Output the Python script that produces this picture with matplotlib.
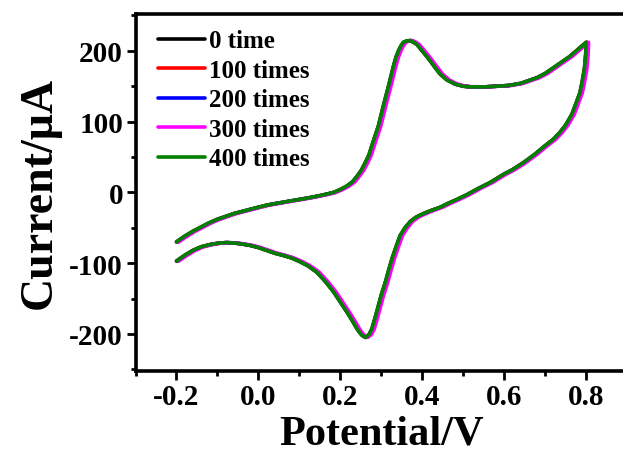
import numpy as np
import matplotlib
matplotlib.use('Agg')
import matplotlib.pyplot as plt
from matplotlib.ticker import MultipleLocator

plt.rcParams['font.family'] = ['Liberation Serif', 'DejaVu Serif']
plt.rcParams['font.weight'] = 'bold'

# forward scan (upper branch), potential in V, current in uA
fwd_v = [-0.20, -0.18, -0.16, -0.14, -0.12, -0.10, -0.08, -0.06, -0.04, -0.02,
         0.00, 0.021, 0.04, 0.06, 0.08, 0.10, 0.125, 0.151, 0.17, 0.184,
         0.20, 0.216, 0.23, 0.241, 0.251, 0.261, 0.27, 0.277, 0.285, 0.293,
         0.305, 0.318, 0.330, 0.336, 0.342, 0.348, 0.354, 0.362, 0.371, 0.379,
         0.387, 0.397, 0.407, 0.418, 0.428, 0.436, 0.444, 0.46, 0.48, 0.50,
         0.52, 0.55, 0.58, 0.61, 0.64, 0.66, 0.68, 0.70, 0.72, 0.74,
         0.76, 0.78, 0.80]
fwd_i = [-70, -62, -55, -49, -43, -38, -34, -30, -27, -24,
         -21, -18, -16, -14, -12, -10, -7.5, -4.5, -2, 0,
         4, 9, 15, 23, 31, 42, 53, 66, 80, 94,
         122, 151, 179, 191, 200, 207, 212, 214, 214.5, 212,
         209, 202, 195, 187, 179, 173, 167, 159, 153, 150,
         149, 149, 150, 151, 154, 158, 162, 168, 176, 184,
         192, 202, 212]

# reverse scan (lower branch)
rev_v = [0.80, 0.799, 0.796, 0.79, 0.785, 0.775, 0.765, 0.75, 0.735, 0.72,
         0.70, 0.675, 0.647, 0.62, 0.60, 0.566, 0.535, 0.51, 0.485, 0.465,
         0.444, 0.42, 0.403, 0.385, 0.371, 0.358, 0.346, 0.336, 0.326, 0.318,
         0.31, 0.30, 0.293, 0.285, 0.277, 0.27, 0.261, 0.253, 0.247, 0.241,
         0.23, 0.216, 0.20, 0.184, 0.165, 0.143, 0.12, 0.10, 0.08, 0.06,
         0.04, 0.02, 0.00, -0.02, -0.04, -0.06, -0.08, -0.10, -0.12, -0.14,
         -0.16, -0.18, -0.20]
rev_i = [212, 195, 175, 155, 141, 125, 110, 95, 84, 75,
         66, 54, 42, 32, 26, 14, 5, -3, -10, -15,
         -21, -26, -30, -35, -41, -50, -61, -77, -94, -110,
         -127, -145, -160, -177, -193, -201, -205, -202, -198, -193,
         -182, -169, -155, -141, -127, -113, -103.5, -97.5, -92.5, -89,
         -86, -82, -78, -75, -73, -71.5, -71, -72, -74, -77,
         -82, -89, -97]

labels = ['0 time', '100 times', '200 times', '300 times', '400 times']
colors = ['black', 'red', 'blue', 'magenta', 'green']
# small potential drift of each series (V), read from the visible fringes
shift_v = [0.0, 0.001, 0.003, 0.006, 0.0]

fig = plt.figure(figsize=(6.23, 4.52), dpi=100)
ax = fig.add_axes([0.2175, 0.1777, 0.789, 0.789])

v = np.array(fwd_v + rev_v)
cur = np.array(fwd_i + rev_i)
for lab, c, dv in zip(labels, colors, shift_v):
    ax.plot(v + dv, cur, color=c, lw=2.6, label=lab,
            solid_joinstyle='round', solid_capstyle='round')

ax.set_xlim(-0.3, 0.9)
ax.set_ylim(-252, 252)

ax.xaxis.set_minor_locator(MultipleLocator(0.1))
ax.yaxis.set_minor_locator(MultipleLocator(50))
ax.set_xticks([-0.2, 0.0, 0.2, 0.4, 0.6, 0.8])
ax.set_xticklabels(['-0.2', '0.0', '0.2', '0.4', '0.6', '0.8'])
ax.set_yticks([-200, -100, 0, 100, 200])
ax.set_yticklabels(['-200', '-100', '0', '100', '200'])

for sp in ax.spines.values():
    sp.set_linewidth(2.6)
ax.tick_params(axis='both', which='major', direction='out', length=6.5, width=2,
               labelsize=21, pad=2.5)
ax.tick_params(axis='both', which='minor', direction='out', length=3.5, width=2)

ax.set_xlabel('Potential/V', fontsize=30.5, fontweight='bold', labelpad=3)
ax.set_ylabel('Current/μA', fontsize=33, fontweight='bold', labelpad=6)

ax.legend(loc='upper left', bbox_to_anchor=(0.045, 0.957), frameon=False,
          fontsize=18, handlelength=1.9, handletextpad=0.16, labelspacing=0.26,
          borderpad=0, borderaxespad=0)

fig.savefig('out.png', dpi=100)
